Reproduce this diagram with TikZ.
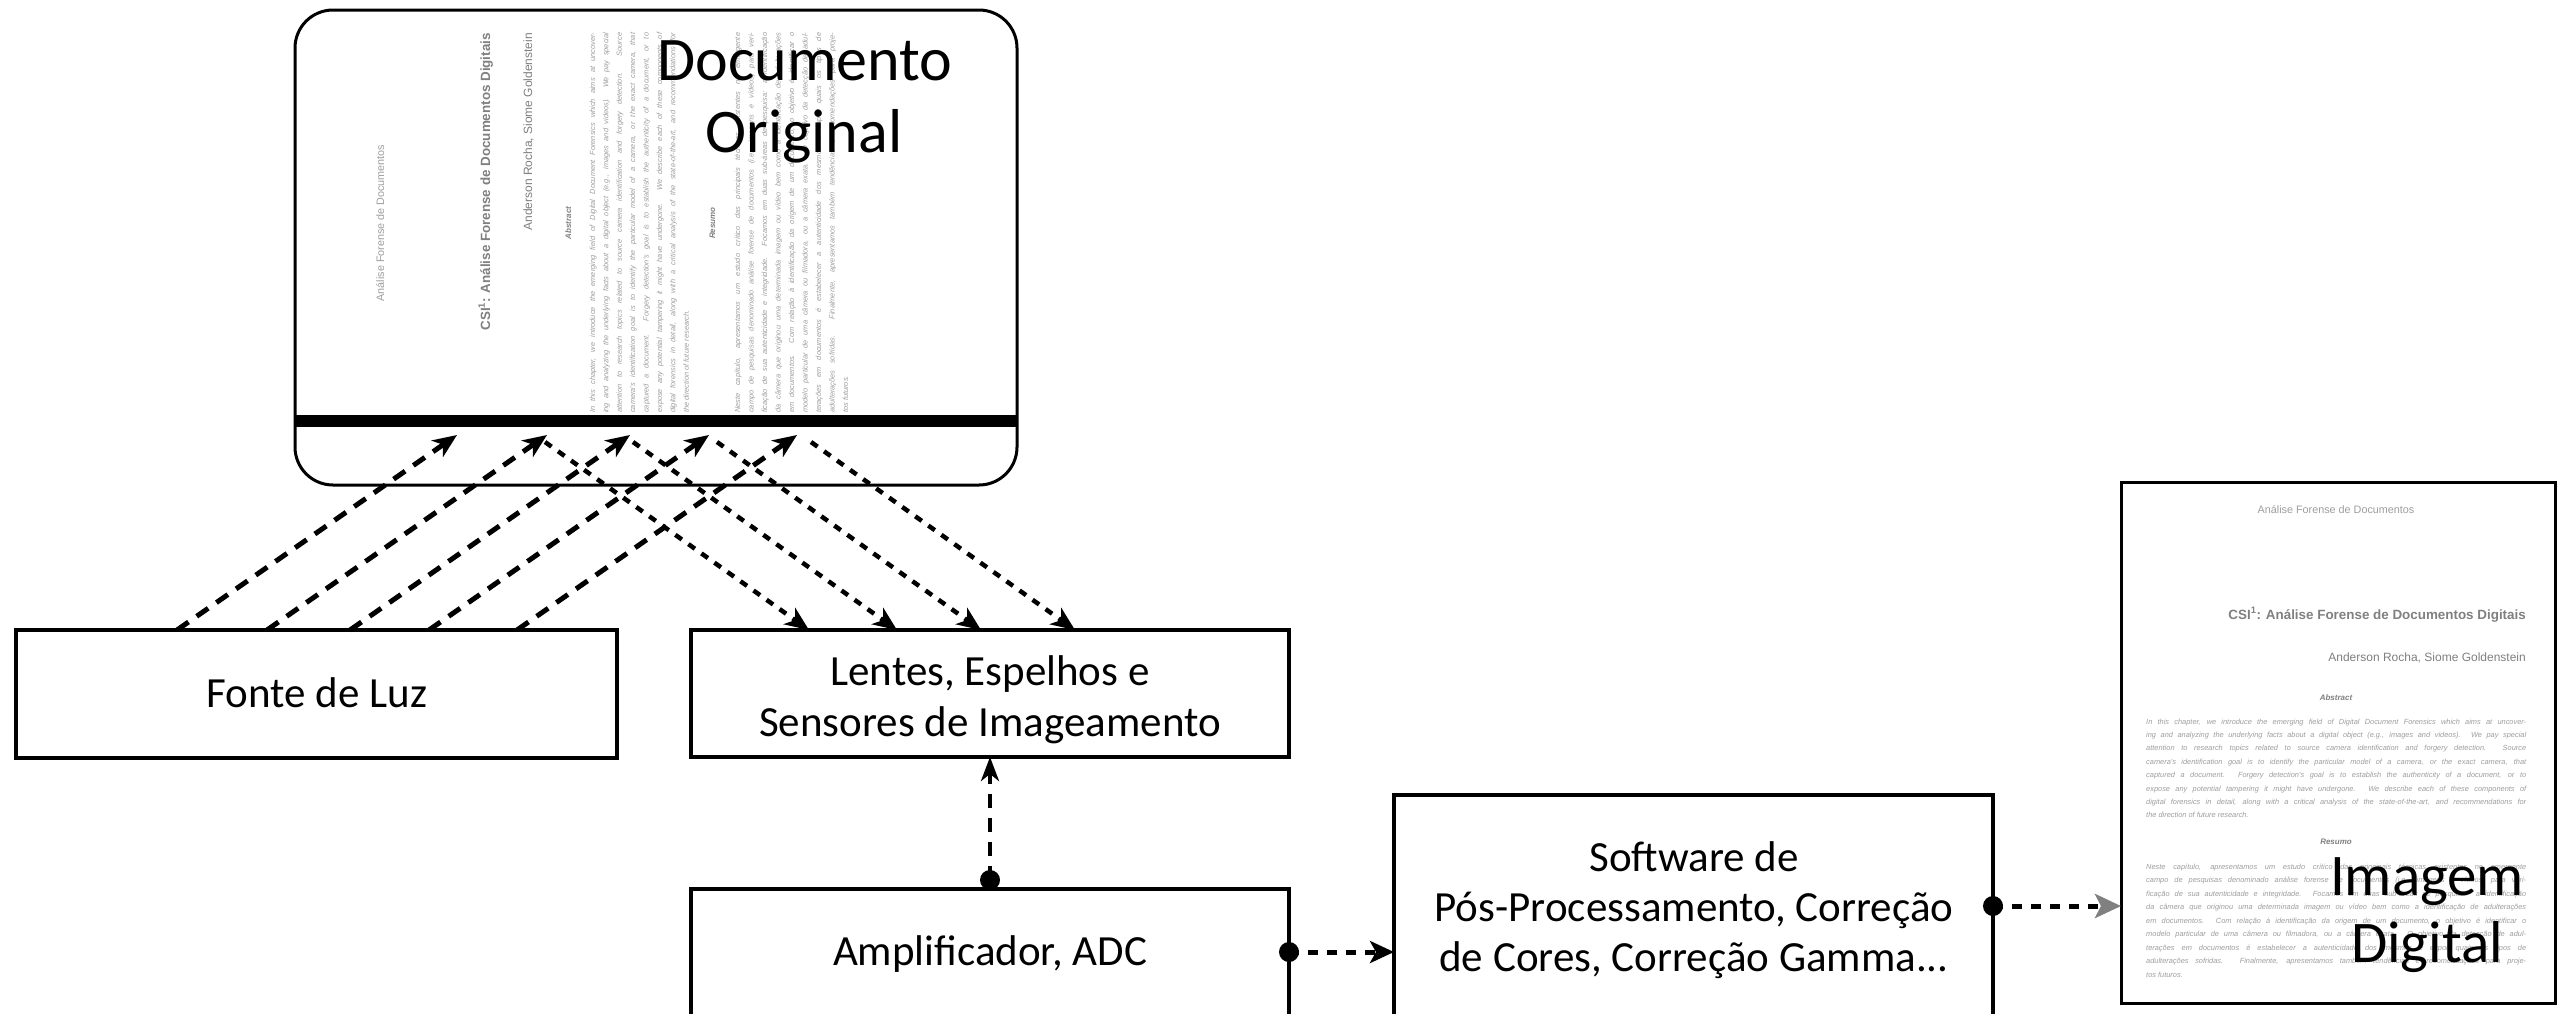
\documentclass[tikz,border=0pt]{standalone}
\usepackage{fontspec}
\setmainfont{Carlito}
\newfontfamily\pagefont{Liberation Sans}
\usetikzlibrary{arrows.meta,calc}
\definecolor{pagegray}{gray}{0.62}
\definecolor{titlegray}{gray}{0.5}
\definecolor{tipgray}{gray}{0.5}

\newcommand\pagetext{%
  \node[pghead] (head) at (0,4) {Análise Forense de Documentos};
  \node[pgtitle] (title) at (190,110) {CSI\textsuperscript{1}: Análise Forense de Documentos Digitais};
  \node[pgauth] (auth) at (190,152) {Anderson Rocha, Siome Goldenstein};
  \node[pgsec] (abs) at (0,191) {Abstract};
  \node[pgline] (a1) at (-190,215.0) {\makebox[380pt][s]{In this chapter, we introduce the emerging field of Digital Document Forensics which aims at uncover-}};
  \node[pgline] (a2) at (-190,228.4) {\makebox[380pt][s]{ing and analyzing the underlying facts about a digital object (e.g., images and videos). We pay special}};
  \node[pgline] (a3) at (-190,241.8) {\makebox[380pt][s]{attention to research topics related to source camera identification and forgery detection. Source}};
  \node[pgline] (a4) at (-190,255.2) {\makebox[380pt][s]{camera's identification goal is to identify the particular model of a camera, or the exact camera, that}};
  \node[pgline] (a5) at (-190,268.6) {\makebox[380pt][s]{captured a document. Forgery detection's goal is to establish the authenticity of a document, or to}};
  \node[pgline] (a6) at (-190,282.0) {\makebox[380pt][s]{expose any potential tampering it might have undergone. We describe each of these components of}};
  \node[pgline] (a7) at (-190,295.4) {\makebox[380pt][s]{digital forensics in detail, along with a critical analysis of the state-of-the-art, and recommendations for}};
  \node[pgline] (a8) at (-190,308.8) {the direction of future research.};
  \node[pgsec] (res) at (0,335) {Resumo};
  \node[pgline] (r1) at (-190,360.0) {\makebox[380pt][s]{Neste capítulo, apresentamos um estudo crítico das principais técnicas existentes no emergente}};
  \node[pgline] (r2) at (-190,373.5) {\makebox[380pt][s]{campo de pesquisas denominado análise forense de documentos (i.e., imagens e vídeos) para veri-}};
  \node[pgline] (r3) at (-190,387.0) {\makebox[380pt][s]{ficação de sua autenticidade e integridade. Focamos em duas sub-áreas de pesquisa: a identificação}};
  \node[pgline] (r4) at (-190,400.5) {\makebox[380pt][s]{da câmera que originou uma determinada imagem ou vídeo bem como a identificação de adulterações}};
  \node[pgline] (r5) at (-190,414.0) {\makebox[380pt][s]{em documentos. Com relação à identificação da origem de um documento, o objetivo é identificar o}};
  \node[pgline] (r6) at (-190,427.5) {\makebox[380pt][s]{modelo particular de uma câmera ou filmadora, ou a câmera exata. O objetivo da detecção de adul-}};
  \node[pgline] (r7) at (-190,441.0) {\makebox[380pt][s]{terações em documentos é estabelecer a autenticidade dos mesmos e expor quais os tipos de}};
  \node[pgline] (r8) at (-190,454.5) {\makebox[380pt][s]{adulterações sofridas. Finalmente, apresentamos também tendências e recomendações para proje-}};
  \node[pgline] (r9) at (-190,468.0) {tos futuros.};
}

\begin{document}
\begin{tikzpicture}[x=1pt,y=-1pt,
  box/.style={draw, line width=4pt, inner sep=0pt, outer sep=0pt},
  lbl/.style={font=\fontsize{43}{50}\selectfont, anchor=base, inner sep=0pt},
  big/.style={font=\fontsize{62}{70}\selectfont, anchor=base, inner sep=0pt},
  pghead/.style={font=\pagefont\fontsize{10.8}{12}\selectfont, text=pagegray, anchor=base, inner sep=0pt},
  pgtitle/.style={font=\pagefont\bfseries\fontsize{13.4}{15}\selectfont, text=titlegray, anchor=base east, inner sep=0pt},
  pgauth/.style={font=\pagefont\fontsize{12}{14}\selectfont, text=titlegray, anchor=base east, inner sep=0pt},
  pgsec/.style={font=\pagefont\bfseries\itshape\fontsize{8}{9}\selectfont, text=titlegray, anchor=base, inner sep=0pt},
  pgline/.style={font=\pagefont\itshape\fontsize{7.4}{8}\selectfont, text=pagegray, anchor=base west, inner sep=0pt},
  ray/.style={line width=5pt, dash pattern=on 14pt off 10pt, -{Stealth[length=24pt,width=20pt,inset=7pt]}},
  refl/.style={line width=4.5pt, dash pattern=on 8pt off 8pt, -{Stealth[length=24pt,width=20pt,inset=7pt]}},
  vconn/.style={line width=4pt, dash pattern=on 14pt off 10pt, -{Stealth[length=24pt,width=18pt,inset=7pt]}},
  hconn/.style={line width=5pt, dash pattern=on 10pt off 9pt, -{Stealth[length=24pt,width=22pt,inset=6pt]}},
  gconn/.style={line width=5pt, dash pattern=on 10pt off 9pt, -{Stealth[length=26pt,width=24pt,inset=6pt,color=tipgray]}},
  dot/.style={fill=black}
]
\useasboundingbox (0,0) rectangle (2566,1013);
\clip (0,0) rectangle (2566,1013);
\fill[white] (0,0) rectangle (2566,1013);

% page images
\begin{scope}[shift={(380,223)}, rotate=90, transform shape, name prefix=rot-]
  \pagetext
\end{scope}
\begin{scope}[shift={(2336,509)}, name prefix=up-]
  \pagetext
\end{scope}

% boxes
\node[box, line width=3pt, rounded corners=38pt, minimum width=722pt, minimum height=475pt] (doc) at (656,247.5) {};
\fill ($(doc.south west)+(-1,-70)$) rectangle ($(doc.south east)+(1,-58)$);
\node[big] (docA) at (805,80) {Documento};
\node[big] (docB) at (804,152) {Original};

\node[box, line width=3pt, minimum width=434pt, minimum height=521pt] (img) at (2338,742.5) {};
\node[big, font=\fontsize{59}{66}\selectfont] (imgA) at (2427,895) {Imagem};
\node[big, font=\fontsize{59}{66}\selectfont] (imgB) at (2427,962) {Digital};

\node[box, minimum width=601pt, minimum height=128pt] (fonte) at (316.5,694) {};
\node[lbl] (fonteL) at (317,707) {Fonte de Luz};

\node[box, minimum width=598pt, minimum height=127pt] (lentes) at (990,693.5) {};
\node[lbl] (lentesA) at (990,685) {Lentes, Espelhos e};
\node[lbl] (lentesB) at (990,736) {Sensores de Imageamento};

\node[box, minimum width=598pt, minimum height=151pt] (amp) at (990,964.5) {};
\node[lbl] (ampL) at (990,965) {Amplificador, ADC};

\node[box, minimum width=599pt, minimum height=245pt] (sw) at (1693.5,917.5) {};
\node[lbl] (swA) at (1694,871) {Software de};
\node[lbl] (swB) at (1694,921) {Pós-Processamento, Correção};
\node[lbl] (swC) at (1694,971) {de Cores, Correção Gamma...};

% light rays
\foreach \i/\a/\b in {1/161/162, 2/251/252, 3/334/335, 4/413/414, 5/501/502} {
  \coordinate (f\i) at ($(fonte.north west)+(\a,0)$);
  \coordinate (t\i) at ($(doc.south west)+(\b,-50)$);
  \draw[ray] (f\i) -- (t\i);
}
\foreach \i/\a/\b in {1/250/118, 2/338/206, 3/422/290, 4/516/384} {
  \coordinate (s\i) at ($(doc.south west)+(\a,-43)$);
  \coordinate (e\i) at ($(lentes.north west)+(\b,0)$);
  \draw[refl] (s\i) -- (e\i);
}

% connectors
\coordinate (ad) at ($(amp.north)+(0,-9)$);
\draw[vconn] (ad) -- (lentes.south);
\fill[dot] (ad) circle[radius=10pt];

\coordinate (ae) at ($(amp.north east)+(0,63)$);
\draw[hconn] (ae) -- (sw.west |- ae);
\fill[dot] (ae) circle[radius=10pt];

\coordinate (se) at ($(sw.north east)+(0,111)$);
\draw[gconn] (se) -- (img.west |- se);
\fill[dot] (se) circle[radius=10pt];
\end{tikzpicture}
\end{document}
